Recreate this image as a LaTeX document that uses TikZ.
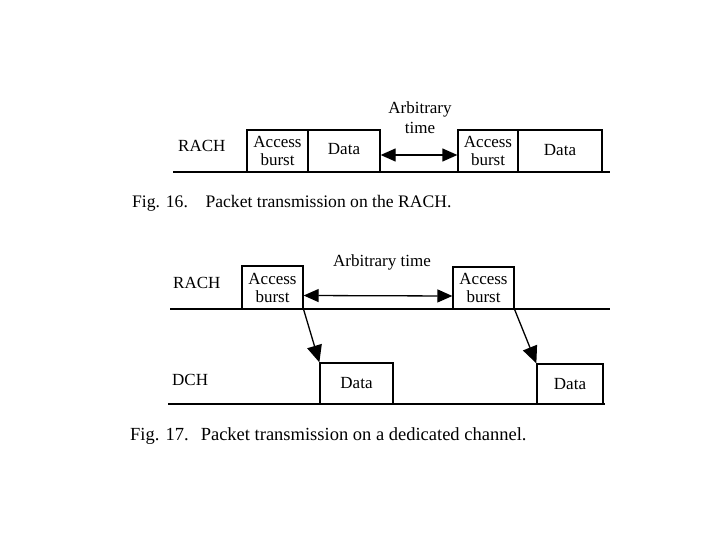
\documentclass[tikz,border=0pt]{standalone}
\usepackage{fontspec}
\setmainfont{Liberation Serif}
\usepackage{tikz}
\usetikzlibrary{arrows.meta,positioning}

\tikzset{
  slot/.style={draw=black,line width=1.3pt,inner sep=0pt,align=center,
    font=\fontsize{17}{18}\selectfont},
  chan/.style={font=\fontsize{17}{18}\selectfont,anchor=west,inner sep=0pt},
  figcap/.style={font=\fontsize{17.6}{19}\selectfont,anchor=west,inner sep=0pt},
  wire/.style={line width=1.3pt},
  gap/.style={line width=1.3pt,{Triangle[length=15pt,width=13pt]}-{Triangle[length=15pt,width=13pt]}},
  hop/.style={line width=1.3pt,-{Triangle[length=17pt,width=15pt]}}
}

\begin{document}
\begin{tikzpicture}[x=1pt,y=-1pt]
\useasboundingbox (0,0) rectangle (720,540);
% Fig. 16
\coordinate (ra1) at (173,172);
\coordinate (rb1) at (610,172);
\draw[wire] (ra1) -- (rb1);
\node[chan] (rach1) at (178,146) {RACH};
\node[slot,minimum width=61pt,minimum height=42pt] (acc1) at (277.5,151) {Access\\burst};
\node[slot,minimum width=72pt,minimum height=42pt] (dat1) at (344,151) {\raisebox{5pt}{Data}};
\node[slot,minimum width=60pt,minimum height=42pt] (acc2) at (488,151) {Access\\burst};
\node[slot,minimum width=84pt,minimum height=42pt] (dat2) at (560,151) {\raisebox{3pt}{Data}};
\draw[gap] ([yshift=-4pt]dat1.east) -- ([yshift=-4pt]acc2.west);
\node[font=\fontsize{17}{20}\selectfont,align=center,inner sep=0pt] (arb1) at (420,118) {Arbitrary\\time};
\node[figcap] (fig16) at (132,203) {Fig. 16.\quad Packet transmission on the RACH.};
% Fig. 17
\coordinate (ra2) at (170,309);
\coordinate (rb2) at (610,309);
\coordinate (da2) at (168,404);
\coordinate (db2) at (605,404);
\draw[wire] (ra2) -- (rb2);
\draw[wire] (da2) -- (db2);
\node[chan] (rach2) at (173,283) {RACH};
\node[chan] (dch) at (172,380) {DCH};
\node[slot,minimum width=61pt,minimum height=43pt] (acc3) at (272.5,287.5) {Access\\burst};
\node[slot,minimum width=61pt,minimum height=42pt] (acc4) at (483.5,288) {Access\\burst};
\node[slot,minimum width=73pt,minimum height=41pt] (dat3) at (356.5,383.5) {Data};
\node[slot,minimum width=66pt,minimum height=40pt] (dat4) at (570,384) {Data};
\draw[gap] ([yshift=-8pt]acc3.east) -- ([yshift=-8pt]acc4.west);
\node[font=\fontsize{17}{18}\selectfont,inner sep=0pt] (arb2) at (382,262) {Arbitrary time};
\draw[hop] (acc3.south east) -- (dat3.north west);
\draw[hop] (acc4.south east) -- (dat4.north west);
\node[figcap,font=\fontsize{18.5}{20}\selectfont] (fig17) at (130,436) {Fig. 17.\hspace{12pt}Packet transmission on a dedicated channel.};
\end{tikzpicture}
\end{document}
